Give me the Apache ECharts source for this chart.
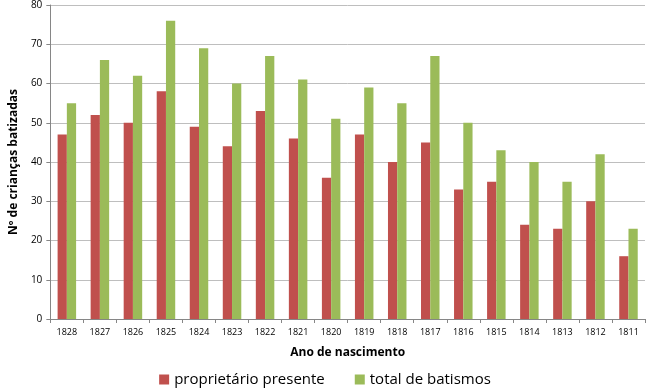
<!DOCTYPE html>
<html>
<head>
<meta charset="utf-8">
<script src="https://cdn.jsdelivr.net/npm/echarts@6/dist/echarts.min.js"></script>
<style>
	html, body { margin: 0; padding: 0; background: #fff; }
	#chart { width: 650px; height: 390px; }
</style>
</head>
<body>
<div id="chart"></div>
<script>
	// dados
	var anos = ['1828', '1827', '1826', '1825', '1824', '1823', '1822', '1821', '1820',
		'1819', '1818', '1817', '1816', '1815', '1814', '1813', '1812', '1811']
	var proprietario = [47, 52, 50, 58, 49, 44, 53, 46, 36, 47, 40, 45, 33, 35, 24, 23, 30, 16]
	var totalBatismos = [55, 66, 62, 76, 69, 60, 67, 61, 51, 59, 55, 67, 50, 43, 40, 35, 42, 23]

	var chart = echarts.init(document.getElementById('chart'))
	var fonte = '"Open Sans", "Noto Sans", sans-serif'
	var option = {
		animation: false,
		color: ['#C0504D', '#9BBB59'],
		textStyle: { fontFamily: fonte },
		legend: {
			bottom: -2,
			left: 'center',
			itemWidth: 10,
			itemHeight: 10,
			itemGap: 30,
			icon: 'rect',
			textStyle: { fontSize: 15, color: '#000', fontFamily: fonte }
		},
		grid: {
			left: 40,
			right: 5,
			top: 5,
			bottom: 71
		},
		xAxis: {
			type: 'category',
			data: anos,
			name: 'Ano de nascimento',
			nameLocation: 'middle',
			nameGap: 28,
			nameTextStyle: { fontSize: 12, fontWeight: 'bold', color: '#000' },
			axisLine: { lineStyle: { color: '#868686' } },
			axisTick: { show: true, length: 4, lineStyle: { color: '#868686' } },
			axisLabel: { fontSize: 9, color: '#000', margin: 9, interval: 0 }
		},
		yAxis: {
			type: 'value',
			min: 0,
			max: 80,
			interval: 10,
			name: 'Nº de crianças batizadas',
			nameLocation: 'middle',
			nameGap: 24,
			nameTextStyle: { fontSize: 12, fontWeight: 'bold', color: '#000' },
			axisLine: { show: true, lineStyle: { color: '#868686' } },
			axisTick: { show: true, length: 4, lineStyle: { color: '#868686' } },
			axisLabel: { fontSize: 10, color: '#000', margin: 8 },
			splitLine: { lineStyle: { color: '#BEBEBE' } }
		},
		series: [
			{
				name: 'proprietário presente',
				type: 'bar',
				data: proprietario,
				barGap: '0%',
				barCategoryGap: '44%'
			},
			{
				name: 'total de batismos',
				type: 'bar',
				data: totalBatismos
			}
		]
	}
	chart.setOption(option)
</script>
</body>
</html>
